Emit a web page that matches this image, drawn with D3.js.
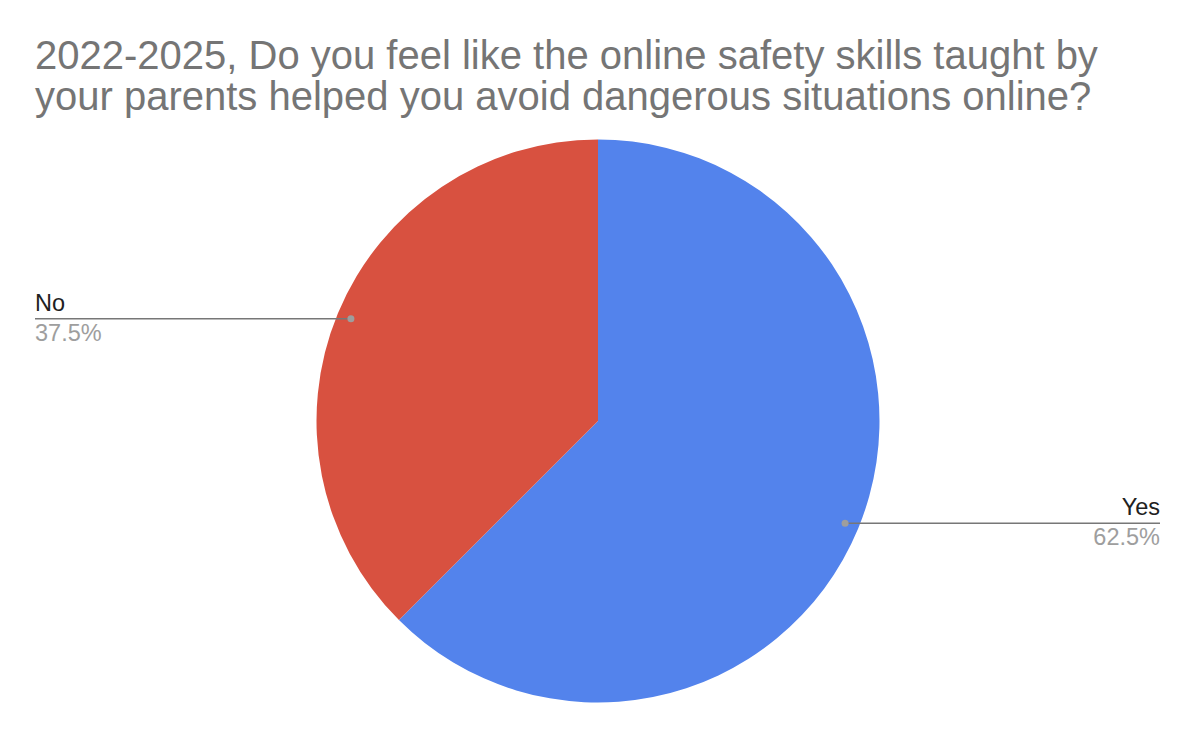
<!DOCTYPE html>
<html>
<head>
<meta charset="utf-8">
<script src="https://cdn.jsdelivr.net/npm/d3@7"></script>
<style>
  html, body { margin: 0; padding: 0; background: #fff; }
  text { font-family: "Liberation Sans", Arial, sans-serif; }
</style>
</head>
<body>
<div id="chart"></div>
<script>
// chart data
var titleLines = [
  "2022-2025, Do you feel like the online safety skills taught by",
  "your parents helped you avoid dangerous situations online?"
];
var categories = ["Yes", "No"];
var values = [62.5, 37.5];
var colors = ["#5383ec", "#d85140"];

var svgWidth = 1190;
var svgHeight = 739;

var svg = d3.select("#chart")
  .append("svg")
  .attr("width", svgWidth)
  .attr("height", svgHeight);

// title
svg.append("g")
  .selectAll("text")
  .data(titleLines)
  .enter()
  .append("text")
  .attr("x", 35)
  .attr("y", (d, i) => 69 + i * 41)
  .attr("font-size", "40px")
  .attr("fill", "#757575")
  .text(d => d);

var cx = 598, cy = 421, radius = 281.5;

var pie = d3.pie()
  .sort(null)
  .value(d => d.value);

var data = categories.map((c, i) => ({ name: c, value: values[i], color: colors[i] }));
var arcs = pie(data);

var arc = d3.arc().innerRadius(0).outerRadius(radius);
var dotArc = d3.arc().innerRadius(radius * 0.95).outerRadius(radius * 0.95);

var pieGroup = svg.append("g")
  .attr("transform", `translate(${cx}, ${cy})`);

pieGroup.selectAll("path")
  .data(arcs)
  .enter()
  .append("path")
  .attr("d", arc)
  .attr("fill", d => d.data.color);

// labels with leader lines
var total = d3.sum(values);
var labels = svg.append("g");

arcs.forEach(function (d) {
  var p = dotArc.centroid(d);
  var x = cx + p[0], y = cy + p[1];
  var right = x > cx;
  var edge = right ? 1160 : 35;
  var anchor = right ? "end" : "start";

  labels.append("line")
    .attr("x1", x).attr("y1", y)
    .attr("x2", edge).attr("y2", y)
    .attr("stroke", "#777")
    .attr("stroke-width", 1.5);

  labels.append("circle")
    .attr("cx", x).attr("cy", y)
    .attr("r", 3.5)
    .attr("fill", "#9e9e9e");

  labels.append("text")
    .attr("x", edge).attr("y", y - 8)
    .attr("text-anchor", anchor)
    .attr("font-size", "23.5px")
    .attr("fill", "#212121")
    .text(d.data.name);

  labels.append("text")
    .attr("x", edge).attr("y", y + 22)
    .attr("text-anchor", anchor)
    .attr("font-size", "23.5px")
    .attr("fill", "#9e9e9e")
    .text((d.data.value / total * 100).toFixed(1) + "%");
});
</script>
</body>
</html>
